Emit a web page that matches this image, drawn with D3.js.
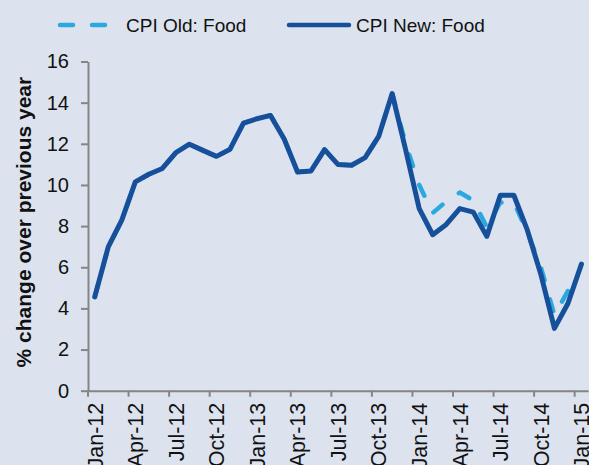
<!DOCTYPE html>
<html>
<head>
<meta charset="utf-8">
<script src="https://cdn.jsdelivr.net/npm/d3@7"></script>
<style>
  html, body { margin: 0; padding: 0; background: #dce3ee; }
  svg { display: block; font-family: "Liberation Sans", Arial, sans-serif; }
</style>
</head>
<body>
<svg id="chart" width="589" height="465"></svg>
<script>
// monthly categories, Jan-12 .. Jan-15
var months = ["Jan-12","Feb-12","Mar-12","Apr-12","May-12","Jun-12","Jul-12","Aug-12","Sep-12","Oct-12","Nov-12","Dec-12",
              "Jan-13","Feb-13","Mar-13","Apr-13","May-13","Jun-13","Jul-13","Aug-13","Sep-13","Oct-13","Nov-13","Dec-13",
              "Jan-14","Feb-14","Mar-14","Apr-14","May-14","Jun-14","Jul-14","Aug-14","Sep-14","Oct-14","Nov-14","Dec-14",
              "Jan-15"];

var newFood = [4.56, 6.99, 8.29, 10.15, 10.52, 10.8, 11.57, 11.98, 11.68, 11.39, 11.73, 13.0,
               13.22, 13.38, 12.25, 10.63, 10.68, 11.72, 10.99, 10.96, 11.33, 12.36, 14.44, 11.7,
               8.85, 7.58, 8.08, 8.85, 8.68, 7.5, 9.5, 9.5, 7.8, 5.65, 3.03, 4.24,
               6.15];

var oldFood = [4.56, 6.99, 8.29, 10.15, 10.52, 10.8, 11.57, 11.98, 11.68, 11.39, 11.73, 13.0,
               13.22, 13.38, 12.25, 10.63, 10.68, 11.72, 10.99, 10.96, 11.33, 12.36, 14.44, 12.0,
               10.0, 8.64, 9.2, 9.63, 9.25, 7.95, 9.15, 9.15, 7.7, 6.0, 3.67, 4.85,
               null];

var labelMonths = months.filter(function(m, i) { return i % 3 === 0; });
var yTicks = [0, 2, 4, 6, 8, 10, 12, 14, 16];

var svg = d3.select("#chart");
var plotLeft = 88, plotRight = 588.2, plotTop = 61.5, plotBottom = 390.7;
var axisColor = "#858585";

svg.append("rect")
  .attr("width", 589).attr("height", 465)
  .attr("fill", "#dce3ee");

var x = d3.scaleBand().domain(months).range([plotLeft, plotRight]).padding(0);
var y = d3.scaleLinear().domain([0, 16]).range([plotBottom, plotTop]);

// y axis
var yAxis = svg.append("g")
  .attr("transform", "translate(" + plotLeft + ",0)")
  .call(d3.axisLeft(y).tickValues(yTicks).tickSize(7).tickSizeOuter(0).tickPadding(12));
yAxis.select(".domain").attr("stroke", axisColor).attr("stroke-width", 2);
yAxis.selectAll(".tick line").attr("stroke", axisColor).attr("stroke-width", 2);
yAxis.selectAll(".tick text")
  .attr("fill", "#111")
  .style("font-size", "20px")
  .style("font-family", "'Liberation Sans', Arial, sans-serif");

// x axis: labels on category centres, ticks on category edges
var xAxis = svg.append("g")
  .attr("transform", "translate(0," + plotBottom + ")")
  .call(d3.axisBottom(x).tickValues(labelMonths).tickSize(6).tickSizeOuter(0));
xAxis.select(".domain").attr("stroke", axisColor).attr("stroke-width", 2);
xAxis.selectAll(".tick line")
  .attr("stroke", axisColor).attr("stroke-width", 2)
  .attr("x1", -x.bandwidth() / 2).attr("x2", -x.bandwidth() / 2);
xAxis.selectAll(".tick text")
  .attr("fill", "#111")
  .style("font-size", "21.5px")
  .style("font-family", "'Liberation Sans', Arial, sans-serif")
  .attr("text-anchor", "end")
  .attr("transform", "rotate(-90)")
  .attr("x", -12)
  .attr("y", 0)
  .attr("dy", "0.36em");

// y axis title
svg.append("text")
  .attr("transform", "translate(31," + ((plotTop + plotBottom) / 2 - 4) + ") rotate(-90)")
  .attr("text-anchor", "middle")
  .style("font-size", "21px")
  .style("font-weight", "bold")
  .attr("fill", "#111")
  .text("% change over previous year");

var line = d3.line()
  .defined(function(d) { return d != null; })
  .x(function(d, i) { return x(months[i]) + x.bandwidth() / 2; })
  .y(function(d) { return y(d); });

svg.append("path")
  .datum(oldFood)
  .attr("d", line)
  .attr("fill", "none")
  .attr("stroke", "#29a9e0")
  .attr("stroke-width", 4.5)
  .attr("stroke-linecap", "round")
  .attr("stroke-linejoin", "round")
  .attr("stroke-dasharray", "12,20");

svg.append("path")
  .datum(newFood)
  .attr("d", line)
  .attr("fill", "none")
  .attr("stroke", "#16509b")
  .attr("stroke-width", 5)
  .attr("stroke-linecap", "round")
  .attr("stroke-linejoin", "round");

// legend
var legend = svg.append("g");
legend.append("line")
  .attr("x1", 60).attr("x2", 108).attr("y1", 25).attr("y2", 25)
  .attr("stroke", "#29a9e0").attr("stroke-width", 4.5)
  .attr("stroke-linecap", "round").attr("stroke-dasharray", "13,19");
legend.append("text")
  .attr("x", 126).attr("y", 32)
  .style("font-size", "19px").attr("fill", "#111")
  .text("CPI Old: Food");
legend.append("line")
  .attr("x1", 289).attr("x2", 349).attr("y1", 25).attr("y2", 25)
  .attr("stroke", "#16509b").attr("stroke-width", 4.5)
  .attr("stroke-linecap", "round");
legend.append("text")
  .attr("x", 356).attr("y", 32)
  .style("font-size", "19px").attr("fill", "#111")
  .text("CPI New: Food");
</script>
</body>
</html>
